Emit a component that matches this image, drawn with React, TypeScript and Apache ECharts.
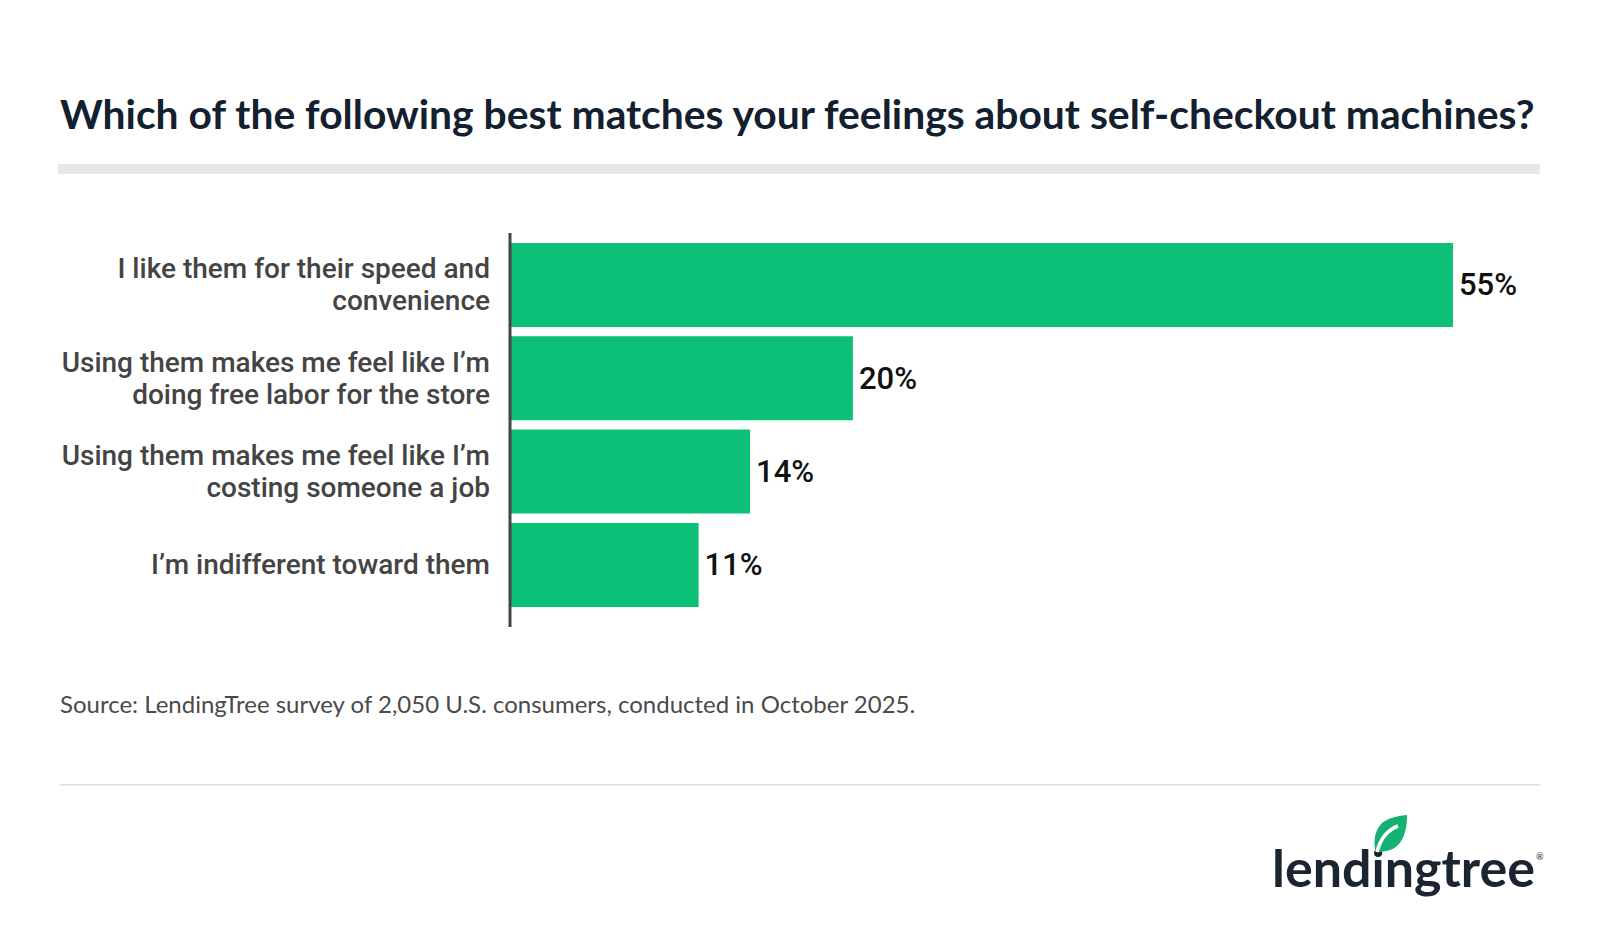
import React, { useEffect, useRef } from "react";
import * as echarts from "echarts";

const categories = [
  "I like them for their speed and\nconvenience",
  "Using them makes me feel like I’m\ndoing free labor for the store",
  "Using them makes me feel like I’m\ncosting someone a job",
  "I’m indifferent toward them",
];
const values = [55, 20, 14, 11];
const titleText = "Which of the following best matches your feelings about self-checkout machines?";
const sourceText = "Source: LendingTree survey of 2,050 U.S. consumers, conducted in October 2025.";

const LEAF =
  "M39,0 C39,0 40,20 30,30 C24,36 16,37 8,37 C5,28 6,16 14,8 C22,1 39,0 39,0 Z";
echarts.graphic.registerShape("leaf", echarts.graphic.extendPath(LEAF, {}) as any);

export default function App() {
  const ref = useRef<HTMLDivElement>(null);
  useEffect(() => {
    document.body.style.margin = "0";
    const chart = echarts.init(ref.current!, null, { renderer: "svg" });
    chart.setOption({
      animation: false,
      backgroundColor: "#ffffff",
      grid: { left: 510, top: 238.3, width: 1028.7, height: 373.3 },
      xAxis: { type: "value", min: 0, max: 60, show: false },
      yAxis: {
        type: "category",
        inverse: true,
        data: categories,
        axisLine: { show: false },
        axisTick: { show: false },
        axisLabel: {
          margin: 20,
          color: "#444444",
          fontFamily: "Roboto",
          fontWeight: 500,
          fontSize: 28,
          lineHeight: 32,
          align: "right",
        },
      },
      series: [
        {
          type: "bar",
          data: values,
          barWidth: 84,
          itemStyle: { color: "#0cc177" },
          label: {
            show: true,
            position: "right",
            distance: 6,
            formatter: "{c}%",
            color: "#111111",
            fontFamily: "Roboto",
            fontWeight: 500,
            fontSize: 31,
          },
        },
      ],
      graphic: [
        {
          type: "text",
          left: 60,
          top: 93,
          style: { text: titleText, fill: "#13202f", font: "bold 40.8px Lato" },
        },
        { type: "rect", shape: { x: 58, y: 164, width: 1482, height: 10 }, style: { fill: "#e6e6e6" } },
        {
          type: "line",
          shape: { x1: 510, y1: 233, x2: 510, y2: 627 },
          style: { stroke: "#444444", lineWidth: 3 },
          z: 10,
        },
        {
          type: "text",
          left: 60,
          top: 691,
          style: { text: sourceText, fill: "#4a4a4a", font: "24px Lato" },
        },
        { type: "rect", shape: { x: 60, y: 784, width: 1480, height: 1.5 }, style: { fill: "#dddddd" } },
        {
          type: "text",
          x: 1272,
          y: 867,
          style: {
            text: "lendingtree",
            fill: "#1b2431",
            font: "bold 52px Lato",
            verticalAlign: "middle",
          },
        },
        {
          type: "text",
          x: 1536,
          y: 852,
          style: { text: "®", fill: "#1b2431", font: "9px Lato" },
        },
        {
          type: "leaf",
          x: 1368,
          y: 815,
          style: { fill: "#14b173" },
        },
        {
          type: "bezierCurve",
          shape: { x1: 1377, y1: 852, cpx1: 1382, cpy1: 832, x2: 1398, y2: 826 },
          style: { stroke: "#ffffff", lineWidth: 3.5, fill: null },
        },
      ],
    });
    return () => chart.dispose();
  }, []);
  return <div ref={ref} style={{ width: 1600, height: 928 }} />;
}
